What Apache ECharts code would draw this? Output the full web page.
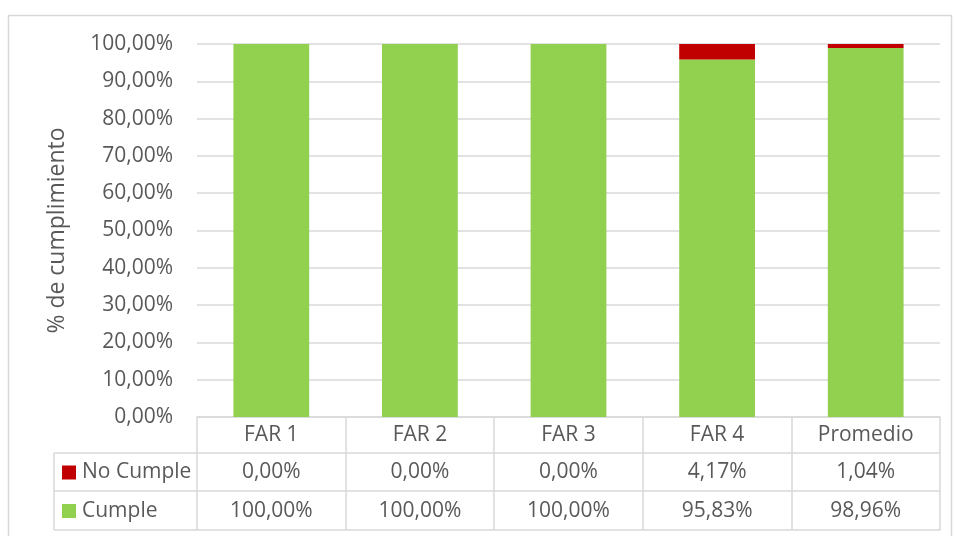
<!DOCTYPE html>
<html>
<head>
<meta charset="utf-8">
<script src="https://cdn.jsdelivr.net/npm/echarts@6/dist/echarts.min.js"></script>
<style>
  html, body { margin: 0; padding: 0; background: #fff; }
  #main { width: 956px; height: 536px; }
</style>
</head>
<body>
<div id="main"></div>
<script>
// datos del grafico
var categorias = ['FAR 1', 'FAR 2', 'FAR 3', 'FAR 4', 'Promedio'];
var cumple = [100, 100, 100, 95.83, 98.96];
var noCumple = [0, 0, 0, 4.17, 1.04];
var yTicks = [0, 10, 20, 30, 40, 50, 60, 70, 80, 90, 100];

function pct(v) {
    return v.toFixed(2).replace('.', ',') + '%';
}

var gridLeft = 197, gridRight = 16, gridTop = 44, gridBottom = 119;
var axisY = 536 - gridBottom;          // linea del eje x
var rowLines = [36, 74, 113];          // filas de la tabla bajo el eje
var legendLeft = 54;
var fuente = 'Open Sans';
var gris = '#595959';
var linea = '#d9d9d9';
var tam = 21;

var myChart = echarts.init(document.getElementById('main'));

function leyenda(nombre, centroY) {
    return {
        data: [nombre],
        left: 62,
        top: centroY - 10,
        padding: 0,
        itemWidth: 14,
        itemHeight: 14,
        itemGap: 0,
        icon: 'rect',
        selectedMode: false,
        textStyle: { fontFamily: fuente, fontSize: tam, lineHeight: 20, color: gris, padding: [0, 0, 0, 1] }
    };
}

var option = {
    animation: false,
    textStyle: { fontFamily: fuente },
    grid: { left: gridLeft, right: gridRight, top: gridTop, bottom: gridBottom, outerBoundsMode: 'none' },
    legend: [
        leyenda('No Cumple', axisY + (rowLines[0] + rowLines[1]) / 2),
        leyenda('Cumple', axisY + (rowLines[1] + rowLines[2]) / 2)
    ],
    xAxis: [
        {
            type: 'category',
            position: 'bottom',
            data: categorias,
            axisLine: { lineStyle: { color: linea, width: 1.5 } },
            axisTick: { show: true, length: rowLines[2], lineStyle: { color: linea, width: 1.5 } },
            axisLabel: { fontSize: tam, color: gris, verticalAlign: 'middle', margin: 18 },
            splitLine: { show: false }
        },
        {
            type: 'category',
            position: 'bottom',
            data: categorias,
            offset: rowLines[0],
            axisLine: { lineStyle: { color: linea, width: 1.5 } },
            axisTick: { show: false },
            axisLabel: {
                fontSize: tam, color: gris, verticalAlign: 'middle', margin: 19,
                formatter: function (v, i) { return pct(noCumple[i]); }
            }
        },
        {
            type: 'category',
            position: 'bottom',
            data: categorias,
            offset: rowLines[1],
            axisLine: { lineStyle: { color: linea, width: 1.5 } },
            axisTick: { show: false },
            axisLabel: {
                fontSize: tam, color: gris, verticalAlign: 'middle', margin: 20,
                formatter: function (v, i) { return pct(cumple[i]); }
            }
        },
        {
            type: 'category',
            position: 'bottom',
            data: categorias,
            offset: rowLines[2],
            axisLine: { lineStyle: { color: linea, width: 1.5 } },
            axisTick: { show: false },
            axisLabel: { show: false }
        }
    ],
    yAxis: {
        type: 'value',
        min: yTicks[0],
        max: yTicks[yTicks.length - 1],
        interval: 10,
        name: '% de cumplimiento',
        nameLocation: 'middle',
        nameRotate: 90,
        nameGap: 128,
        nameTextStyle: { fontSize: 23, color: gris },
        axisLine: { show: false },
        axisTick: { show: false },
        axisLabel: {
            fontSize: tam, color: gris, margin: 24,
            formatter: function (v) { return pct(v); }
        },
        splitLine: { lineStyle: { color: linea, width: 1.5 } }
    },
    series: [
        {
            name: 'Cumple',
            type: 'bar',
            stack: 'total',
            barWidth: '51%',
            data: cumple,
            itemStyle: { color: '#92D050' }
        },
        {
            name: 'No Cumple',
            type: 'bar',
            stack: 'total',
            data: noCumple,
            itemStyle: { color: '#C00000' }
        }
    ],
    graphic: [
        // borde exterior
        { type: 'rect', shape: { x: 8.5, y: 15.5, width: 943, height: 540 },
          style: { fill: 'none', stroke: linea, lineWidth: 1.5 }, silent: true },
        // columna de leyenda de la tabla
        { type: 'line', shape: { x1: legendLeft, y1: axisY + rowLines[0], x2: gridLeft, y2: axisY + rowLines[0] },
          style: { stroke: linea, lineWidth: 1.5 } },
        { type: 'line', shape: { x1: legendLeft, y1: axisY + rowLines[1], x2: gridLeft, y2: axisY + rowLines[1] },
          style: { stroke: linea, lineWidth: 1.5 } },
        { type: 'line', shape: { x1: legendLeft, y1: axisY + rowLines[2], x2: gridLeft, y2: axisY + rowLines[2] },
          style: { stroke: linea, lineWidth: 1.5 } },
        { type: 'line', shape: { x1: legendLeft, y1: axisY + rowLines[0], x2: legendLeft, y2: axisY + rowLines[2] },
          style: { stroke: linea, lineWidth: 1.5 } }
    ]
};

myChart.setOption(option);
</script>
</body>
</html>
